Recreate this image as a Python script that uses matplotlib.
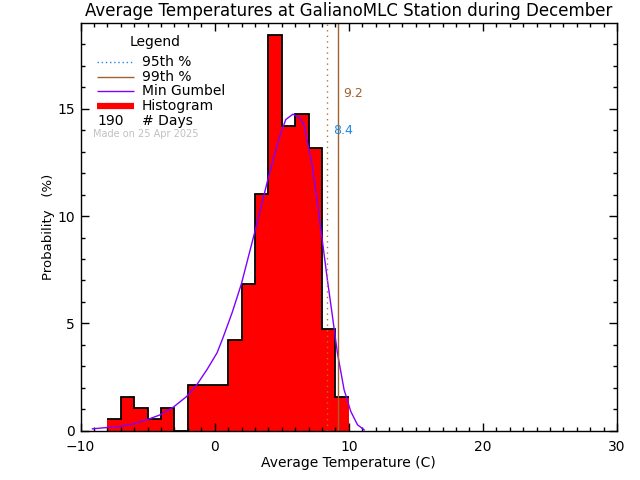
import matplotlib
matplotlib.use("Agg")
import matplotlib.pyplot as plt
import numpy as np

# histogram: bin left edges (1 C wide) and probability (%) of 190 days
bin_left = [-8, -7, -6, -5, -4, -3, -2, -1, 0, 1, 2, 3, 4, 5, 6, 7, 8, 9]
prob = [0.53, 1.58, 1.05, 0.53, 1.05, 0.0, 2.11, 2.11, 2.11, 4.21,
        6.84, 11.05, 18.42, 14.21, 14.74, 13.16, 4.74, 1.58]

# fitted min gumbel curve
gumbel_x = [-9.12, -8.07, -7.08, -6.08, -5.08, -4.08, -3.09, -2.09, -1.33,
            -0.58, 0.17, 0.6, 1.3, 1.99, 2.91, 4.03, 4.85, 5.3, 5.83, 6.3,
            6.65, 7.28, 7.95, 8.4, 8.78, 9.15, 9.65, 10.15, 10.65, 11.15]
gumbel_y = [0.08, 0.14, 0.19, 0.31, 0.50, 0.73, 1.09, 1.59, 2.14,
            2.84, 3.62, 4.3, 5.5, 6.84, 9.07, 11.87, 13.74, 14.5, 14.75, 14.6,
            14.28, 12.34, 9.22, 7.04, 5.33, 3.62, 1.9, 0.89, 0.27, 0.03]

p95 = 8.4
p99 = 9.2
n_days = 190

red = '#ff0000'
purple = '#8000ff'
brown = '#a0622d'
dotbrown = '#b87333'
blue = '#1e88e5'

fig = plt.figure(figsize=(6.4, 4.8), dpi=100)
ax = fig.add_axes([0.126, 0.103, 0.838, 0.849])

edges = np.append(bin_left, bin_left[-1] + 1)
ax.bar(bin_left, prob, width=1, align='edge', color=red, linewidth=0)
ax.stairs(prob, edges, baseline=None, color='black', linewidth=1.3)

ax.plot(gumbel_x, gumbel_y, color=purple, linewidth=1)

ax.axvline(p95, color=dotbrown, linestyle=(0, (1, 3)), linewidth=1)
ax.axvline(p99, color=brown, linewidth=1)
ax.text(9.57, 15.7, '%.1f' % p99, color=brown, fontsize=9, va='center')
ax.text(8.83, 14.0, '%.1f' % p95, color=blue, fontsize=9, va='center')

ax.set_xlim(-10, 30)
ax.set_ylim(0, 19.0)
ax.set_xticks([-10, 0, 10, 20, 30])
ax.set_xticks(np.arange(-10, 31, 1), minor=True)
ax.set_yticks([0, 5, 10, 15])
ax.set_yticks(np.arange(0, 19, 1), minor=True)
ax.tick_params(which='both', direction='in', top=True, right=True, labelsize=10)
ax.tick_params(which='major', length=5.5, width=1)
ax.tick_params(which='minor', length=3, width=1)
ax.tick_params(axis='x', which='major', pad=7)
ax.tick_params(axis='y', which='major', pad=4)
for s in ax.spines.values():
    s.set_linewidth(1)

ax.set_title('Average Temperatures at GalianoMLC Station during December',
             fontsize=12, pad=5)
ax.set_xlabel('Average Temperature (C)', fontsize=10, labelpad=1)
ax.set_ylabel('Probability   (%)', fontsize=9.5, labelpad=2)

# hand-drawn legend like the original
tr = ax.transAxes
def px(x, y):
    return ((x - 80.7) / 536.0, (430.5 - y) / 407.5)

ax.text(*px(155, 42), 'Legend', transform=tr, ha='center', va='center', fontsize=10)
rows = [(62, '95th %'), (77, '99th %'), (91, 'Min Gumbel'), (106, 'Histogram')]
styles = [dict(color=blue, linestyle=(0, (1, 2)), linewidth=1),
          dict(color=brown, linewidth=1),
          dict(color=purple, linewidth=1),
          dict(color=red, linewidth=4.5)]
for (y, lab), st in zip(rows, styles):
    x0, yy = px(97, y)
    x1, _ = px(134, y)
    ax.plot([x0, x1], [yy, yy], transform=tr, clip_on=False, solid_capstyle='butt', **st)
    ax.text(*px(142, y), lab, transform=tr, va='center', fontsize=10)
ax.text(*px(111, 121), str(n_days), transform=tr, ha='center', va='center', fontsize=10)
ax.text(*px(142, 121), '# Days', transform=tr, va='center', fontsize=10)
ax.text(*px(93, 134), 'Made on 25 Apr 2025', transform=tr, va='center',
        fontsize=7, color='#c0c0c0')

fig.savefig('out.png', dpi=100)
